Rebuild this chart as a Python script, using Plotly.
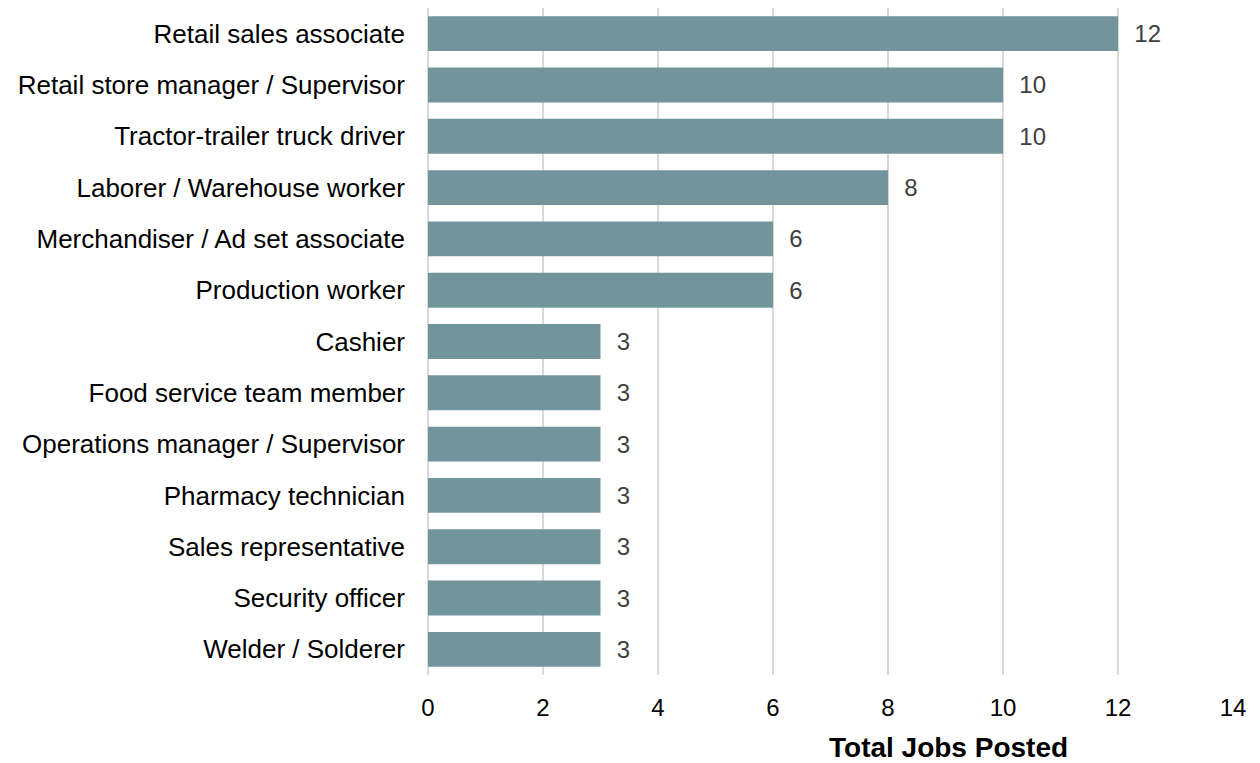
import plotly.graph_objects as go

categories = [
    "Retail sales associate",
    "Retail store manager / Supervisor",
    "Tractor-trailer truck driver",
    "Laborer / Warehouse worker",
    "Merchandiser / Ad set associate",
    "Production worker",
    "Cashier",
    "Food service team member",
    "Operations manager / Supervisor",
    "Pharmacy technician",
    "Sales representative",
    "Security officer",
    "Welder / Solderer",
]
jobs = [12, 10, 10, 8, 6, 6, 3, 3, 3, 3, 3, 3, 3]
x_ticks = [0, 2, 4, 6, 8, 10, 12, 14]

FONT = "Liberation Sans, Arial, sans-serif"
NB = "\u00a0"

W, H = 1244, 755
L, R, T, B = 420, 19, 0, 88

fig = go.Figure(go.Bar(
    y=categories, x=jobs, orientation="h",
    marker=dict(color="#72949B", line=dict(width=0)),
    text=[NB * 2 + str(v) for v in jobs], textposition="outside",
    textfont=dict(size=24, color="#404040", family=FONT),
    cliponaxis=False,
))

fig.update_layout(
    width=W, height=H,
    margin=dict(l=L, r=R, t=T, b=B),
    paper_bgcolor="white", plot_bgcolor="white",
    bargap=0.32,
    showlegend=False,
    font=dict(family=FONT, size=24, color="#000000"),
    annotations=[dict(
        text="<b>Total Jobs Posted</b>",
        x=(948 - 8 - L) / (W - L - R), xref="paper", y=0, yref="paper",
        showarrow=False, font=dict(size=28, family=FONT, color="#000000"),
        xanchor="center", yanchor="middle", yshift=-72,
    )],
)
fig.update_xaxes(
    range=[0, 14], tickvals=x_ticks, ticktext=[str(t) for t in x_ticks],
    showgrid=True, gridcolor="#D9D9D9", gridwidth=1.5,
    zeroline=True, zerolinecolor="#D9D9D9", zerolinewidth=1.5,
    showline=False, ticks="", ticklabelstandoff=16,
    tickfont=dict(size=24, color="#000000"),
)
fig.update_yaxes(
    autorange="reversed", showgrid=False, showline=False, ticks="",
    ticklabelstandoff=22, tickfont=dict(size=26, color="#000000"),
)
fig.write_html("out.html")
